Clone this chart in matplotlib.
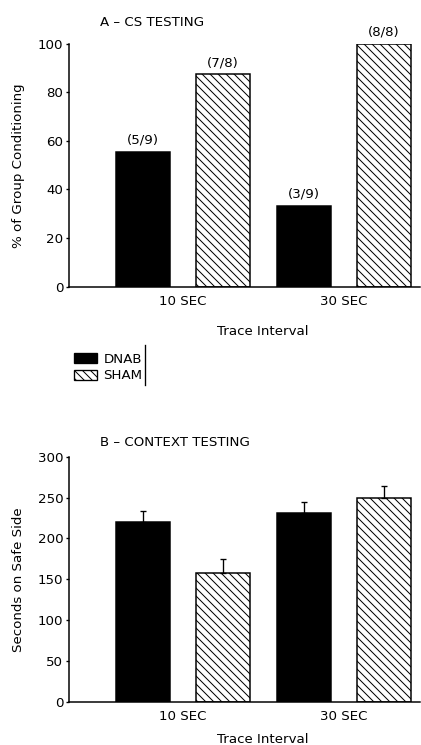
import matplotlib
matplotlib.use("Agg")
import matplotlib.pyplot as plt
from matplotlib.patches import Patch
from matplotlib.lines import Line2D
import numpy as np

intervals = ["10 SEC", "30 SEC"]
groups = ["DNAB", "SHAM"]
cs_pct = {"DNAB": [55.6, 33.3], "SHAM": [87.5, 100.0]}
cs_labels = {"DNAB": ["(5/9)", "(3/9)"], "SHAM": ["(7/8)", "(8/8)"]}
ctx_mean = {"DNAB": [220, 231], "SHAM": [158, 250]}
ctx_err = {"DNAB": [14, 14], "SHAM": [17, 14]}

DPI = 120
W, H = 421, 745
plt.rcParams["font.family"] = ["DejaVu Sans"]
plt.rcParams["hatch.linewidth"] = 0.6
fig = plt.figure(figsize=(W / DPI, H / DPI), dpi=DPI)

FS = 8
fc = {"DNAB": "black", "SHAM": "white"}
hatch = {"DNAB": None, "SHAM": "\\" * 5}
offs = {"DNAB": -0.248, "SHAM": 0.248}
bw = 0.335
x = np.arange(len(intervals))


def style(ax, ylim, yticks):
    ax.set_xlim(-0.708, 1.472)
    ax.set_ylim(*ylim)
    ax.set_yticks(yticks)
    ax.set_xticks(x)
    ax.set_xticklabels(intervals, fontsize=FS)
    ax.tick_params(axis="x", length=0, pad=5)
    ax.tick_params(axis="y", length=2, width=0.8, pad=1.5, labelsize=FS)
    for s in ["top", "right"]:
        ax.spines[s].set_visible(False)
    for s in ["left", "bottom"]:
        ax.spines[s].set_linewidth(0.9)


# Panel A
axA = fig.add_axes([69 / W, 1 - 286.7 / H, 351 / W, 243 / H])
for g in groups:
    bars = axA.bar(x + offs[g], cs_pct[g], bw, color=fc[g], edgecolor="black",
                   hatch=hatch[g], linewidth=0.9)
    for b, lab in zip(bars, cs_labels[g]):
        axA.annotate(lab, (b.get_x() + b.get_width() / 2, b.get_height()),
                     xytext=(0, 3), textcoords="offset points",
                     ha="center", va="bottom", fontsize=FS)
style(axA, (0, 100), [0, 20, 40, 60, 80, 100])
axA.set_ylabel("% of Group Conditioning", fontsize=FS)
axA.yaxis.set_label_coords(-0.125, 0.5)
axA.set_xlabel("Trace Interval", fontsize=FS)
axA.xaxis.set_label_coords(0.553, -0.158)
fig.text(100 / W, 1 - 22.7 / H, "A \u2013 CS TESTING", fontsize=FS, va="center", ha="left")

# Panel B
axB = fig.add_axes([69 / W, 1 - 701.7 / H, 351 / W, 245 / H])
for g in groups:
    axB.bar(x + offs[g], ctx_mean[g], bw, color=fc[g], edgecolor="black",
            hatch=hatch[g], linewidth=0.9)
    axB.errorbar(x + offs[g], ctx_mean[g],
                 yerr=[np.zeros(len(x)), ctx_err[g]], fmt="none",
                 ecolor="black", elinewidth=0.8, capsize=2, capthick=0.8)
style(axB, (0, 300), [0, 50, 100, 150, 200, 250, 300])
axB.set_ylabel("Seconds on Safe Side", fontsize=FS)
axB.yaxis.set_label_coords(-0.125, 0.5)
axB.set_xlabel("Trace Interval", fontsize=FS)
axB.xaxis.set_label_coords(0.553, -0.128)
fig.text(100 / W, 1 - 442 / H, "B \u2013 CONTEXT TESTING", fontsize=FS, va="center", ha="left")

# Legend
handles = [Patch(facecolor=fc[g], edgecolor="black", hatch=hatch[g], linewidth=0.8) for g in groups]
fig.legend(handles, groups, loc="upper left", bbox_to_anchor=(74 / W, 1 - 353 / H),
           frameon=False, fontsize=FS, handlelength=1.7, handleheight=0.8,
           handletextpad=0.5, labelspacing=0.25, borderpad=0, borderaxespad=0)
fig.add_artist(Line2D([145 / W, 145 / W], [1 - 345 / H, 1 - 385 / H],
                      color="black", linewidth=0.8, transform=fig.transFigure))

fig.savefig("out.png", dpi=DPI)
